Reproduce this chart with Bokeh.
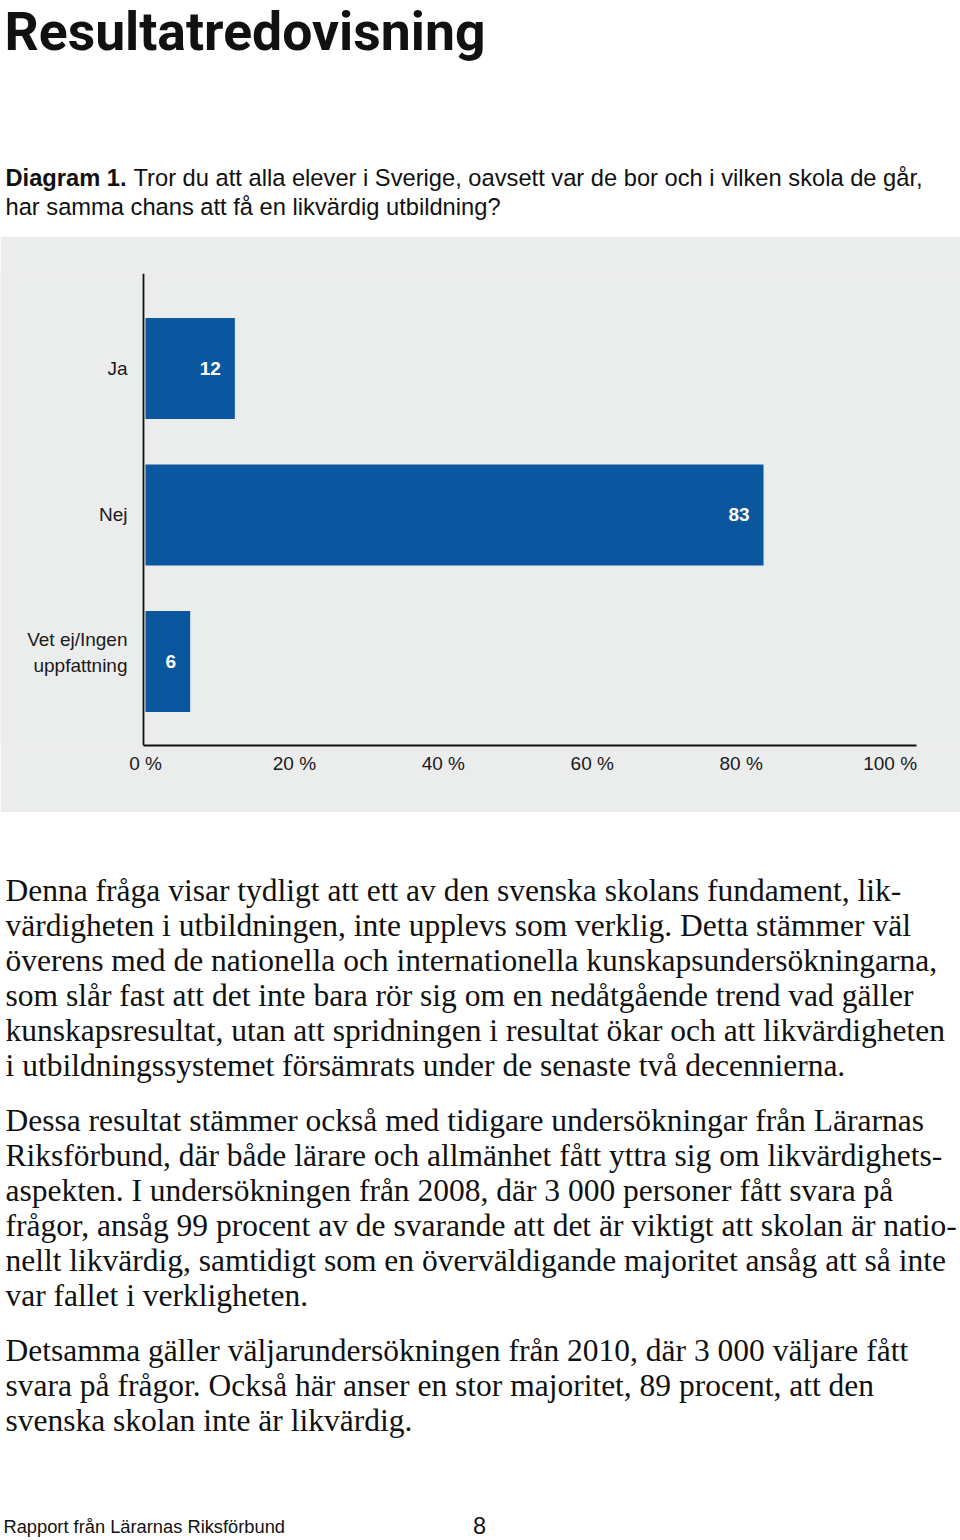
from bokeh.plotting import figure
from bokeh.models import Range1d, FixedTicker, ColumnDataSource, Span
from bokeh.layouts import column
from bokeh.core.properties import value
from bokeh.embed import file_html
from bokeh.resources import INLINE

# ---------------- data ----------------
TITLE = "Resultatredovisning"
CAPTION_BOLD = "Diagram 1."
CAPTION_LINES = ["Tror du att alla elever i Sverige, oavsett var de bor och i vilken skola de går,",
                 "har samma chans att få en likvärdig utbildning?"]
CATEGORIES = ["Ja", "Nej", "Vet ej/Ingen\nuppfattning"]
VALUES = [12, 83, 6]
X_TICKS = [0, 20, 40, 60, 80, 100]
X_TICK_LABELS = ["0 %", "20 %", "40 %", "60 %", "80 %", "100 %"]
PARAGRAPHS = [
    ["Denna fråga visar tydligt att ett av den svenska skolans fundament, lik-",
     "värdigheten i utbildningen, inte upplevs som verklig. Detta stämmer väl",
     "överens med de nationella och internationella kunskapsundersökningarna,",
     "som slår fast att det inte bara rör sig om en nedåtgående trend vad gäller",
     "kunskapsresultat, utan att spridningen i resultat ökar och att likvärdigheten",
     "i utbildningssystemet försämrats under de senaste två decennierna."],
    ["Dessa resultat stämmer också med tidigare undersökningar från Lärarnas",
     "Riksförbund, där både lärare och allmänhet fått yttra sig om likvärdighets-",
     "aspekten. I undersökningen från 2008, där 3 000 personer fått svara på",
     "frågor, ansåg 99 procent av de svarande att det är viktigt att skolan är natio-",
     "nellt likvärdig, samtidigt som en överväldigande majoritet ansåg att så inte",
     "var fallet i verkligheten."],
    ["Detsamma gäller väljarundersökningen från 2010, där 3 000 väljare fått",
     "svara på frågor. Också här anser en stor majoritet, 89 procent, att den",
     "svenska skolan inte är likvärdig."],
]
FOOTER = "Rapport från Lärarnas Riksförbund"
PAGE_NO = "8"

# ---------------- style ----------------
W = 960
SANS = value("Liberation Sans")
SERIF = value("Liberation Serif")
TITLE_FONT = value("Roboto")
BLUE = "#0b579f"
GRAY = "#ebecec"
INK = "#111111"


def text_fig(y0, y1):
    f = figure(width=W, height=y1 - y0, output_backend="svg", toolbar_location=None,
               x_range=Range1d(0, W), y_range=Range1d(y1, y0),
               min_border=0, min_border_left=0, min_border_right=0,
               min_border_top=0, min_border_bottom=0)
    f.axis.visible = False
    f.grid.visible = False
    f.outline_line_color = None
    f.background_fill_color = "white"
    f.border_fill_color = "white"
    return f

# ---------------- header ----------------
top = text_fig(0, 236)
top.text(x=[4], y=[31], text=[TITLE], text_font=TITLE_FONT, text_font_style="bold",
         text_font_size="53.5px", text_color=INK, text_baseline="middle")
top.text(x=[5], y=[177], text=[CAPTION_BOLD], text_font=SANS, text_font_style="bold",
         text_font_size="23.7px", text_color=INK, text_baseline="middle")
top.text(x=[133, 5], y=[177, 206], text=CAPTION_LINES, text_font=SANS,
         text_font_size="23.7px", text_color=INK, text_baseline="middle")

# ---------------- chart ----------------
PX_PER_PCT = 7.446          # horizontal scale of the chart
ZERO_PX = 145               # page position of 0 %
n = len(CATEGORIES)
ypos = [n - i for i in range(n)]
lab_off = [-9 if "\n" in c else 0 for c in CATEGORIES]
src = ColumnDataSource(dict(cat=CATEGORIES, v=VALUES, y=ypos, off=lab_off,
                            lbl=[str(v) for v in VALUES]))

ch = figure(width=W, height=576, output_backend="svg", toolbar_location=None,
            x_range=Range1d(-ZERO_PX / PX_PER_PCT, (W - ZERO_PX) / PX_PER_PCT),
            y_range=Range1d(0.427, 3.648),
            min_border_left=0, min_border_right=0, min_border_top=37, min_border_bottom=67)
ch.background_fill_color = GRAY
ch.border_fill_color = GRAY
ch.outline_line_color = None
ch.grid.visible = False
ch.yaxis.visible = False

ch.hbar(y="y", right="v", left=0, height=0.69, source=src, fill_color=BLUE, line_color=None)
ch.text(x="v", y="y", text="lbl", source=src, x_offset=-14, text_align="right",
        text_baseline="middle", text_color="white", text_font=SANS, text_font_style="bold",
        text_font_size="19px")
# category labels, placed by the chart's own y scale, left of the value axis
ch.text(x=0, y="y", text="cat", source=src, x_offset=-18, y_offset="off", text_align="right",
        text_baseline="middle", text_color="#1a1a1a", text_font=SANS,
        text_font_size="19px", text_line_height=1.25)
ch.add_layout(Span(location=-0.27, dimension="height", line_color=INK, line_width=1.8))

xa = ch.xaxis[0]
xa.ticker = FixedTicker(ticks=X_TICKS)
xa.bounds = (-0.27, 103.6)
xa.major_label_overrides = {t: l for t, l in zip(X_TICKS, X_TICK_LABELS)}
xa.major_tick_line_color = None
xa.minor_tick_line_color = None
xa.axis_line_color = INK
xa.axis_line_width = 1.8
xa.major_label_standoff = 1
xa.major_label_text_font = "Liberation Sans"
xa.major_label_text_font_size = "19px"
xa.major_label_text_color = "#1a1a1a"

# ---------------- body ----------------
bot = text_fig(812, 1540)
xs, ys, ts = [], [], []
y = 890
for para in PARAGRAPHS:
    for line in para:
        xs.append(5)
        ys.append(y)
        ts.append(line)
        y += 35
    y += 20
bot.text(x=xs, y=ys, text=ts, text_font=SERIF, text_font_size="31.5px",
         text_color=INK, text_baseline="middle")
bot.text(x=[3], y=[1526], text=[FOOTER], text_font=SANS, text_font_size="18.3px",
         text_color=INK, text_baseline="middle")
bot.text(x=[479], y=[1525], text=[PAGE_NO], text_font=SANS, text_font_size="23.5px",
         text_color=INK, text_baseline="middle", text_align="center")

layout = column(top, ch, bot, spacing=0)
open("out.html", "w").write(file_html(layout, INLINE))
